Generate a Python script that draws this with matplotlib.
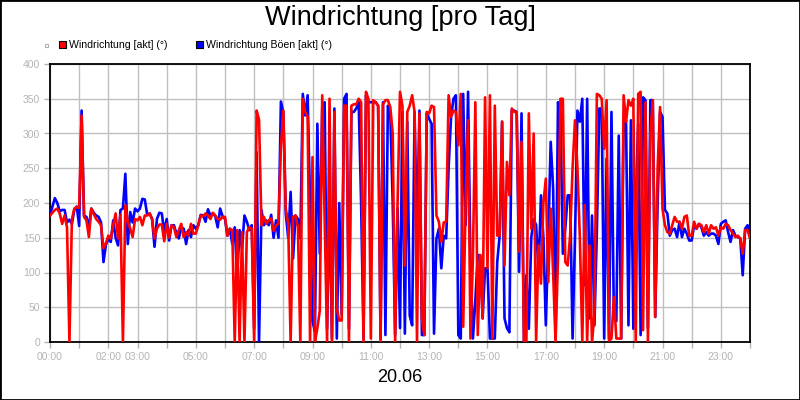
import matplotlib
matplotlib.use("Agg")
import matplotlib.pyplot as plt
from matplotlib.patches import Rectangle
import numpy as np

plt.rcParams['font.family'] = ['Liberation Sans', 'DejaVu Sans']

# wind direction [deg], one value every 5 minutes, 00:00 .. 24:00
gust_dir = [
    182, 195, 207, 200, 188, 190, 190, 172, 176, 170, 190, 195,
    167, 333, 182, 180, 165, 192, 186, 182, 180, 172, 115, 140,
    148, 144, 175, 150, 139, 190, 192, 242, 141, 187, 172, 192,
    188, 192, 206, 205, 183, 185, 177, 137, 177, 186, 185, 158,
    177, 146, 168, 168, 156, 149, 165, 163, 141, 161, 151, 168,
    163, 168, 183, 182, 173, 191, 182, 185, 181, 165, 192, 181,
    177, 153, 163, 141, 165, 96, 161, 134, 182, 173, 161, 168,
    19, 273, 0, 190, 168, 175, 168, 183, 150, 175, 150, 346,
    330, 185, 150, 216, 120, 182, 177, 149, 357, 326, 355, 200,
    30, 15, 314, 127, 336, 345, 19, 206, 5, 336, 5, 200,
    40, 350, 357, 19, 331, 331, 336, 345, 200, 5, 355, 345,
    345, 345, 345, 340, 5, 345, 10, 340, 331, 200, 10, 192,
    20, 331, 12, 317, 38, 24, 331, 150, 333, 10, 10, 329,
    321, 314, 12, 149, 163, 106, 153, 149, 250, 324, 350, 355,
    10, 5, 357, 168, 360, 115, 5, 60, 125, 125, 34, 106,
    106, 5, 5, 5, 115, 153, 317, 34, 20, 14, 333, 333,
    331, 101, 329, 0, 96, 19, 150, 177, 168, 101, 211, 150,
    24, 150, 288, 221, 5, 345, 331, 127, 163, 211, 211, 5,
    150, 333, 317, 350, 82, 350, 34, 182, 24, 160, 336, 336,
    5, 264, 5, 331, 34, 30, 297, 5, 317, 319, 24, 319,
    19, 200, 314, 10, 352, 348, 20, 348, 348, 36, 200, 331,
    324, 190, 185, 153, 161, 163, 151, 173, 151, 163, 156, 146,
    146, 168, 163, 170, 165, 153, 158, 153, 156, 156, 153, 141,
    170, 173, 175, 158, 144, 161, 153, 151, 149, 96, 163, 168,
    153,
]

wind_dir = [
    182, 186, 190, 192, 185, 170, 182, 165, 0, 176, 192, 194,
    193, 326, 180, 175, 151, 192, 184, 177, 173, 168, 135, 142,
    153, 149, 168, 185, 149, 183, 0, 197, 173, 163, 151, 177,
    175, 180, 168, 182, 182, 185, 177, 149, 163, 169, 169, 145,
    170, 150, 168, 165, 151, 161, 170, 151, 158, 153, 170, 156,
    156, 168, 182, 181, 185, 182, 177, 186, 182, 177, 176, 180,
    180, 153, 163, 161, 0, 161, 0, 158, 0, 158, 165, 163,
    0, 333, 320, 168, 180, 170, 175, 178, 160, 168, 170, 280,
    333, 192, 170, 0, 180, 182, 165, 0, 350, 331, 324, 0,
    266, 0, 20, 45, 355, 180, 0, 350, 0, 331, 48, 31,
    31, 340, 340, 0, 340, 342, 342, 350, 345, 0, 360, 350,
    5, 348, 345, 340, 0, 342, 348, 348, 338, 300, 0, 200,
    360, 340, 110, 331, 340, 355, 331, 0, 329, 34, 10, 331,
    329, 340, 338, 182, 173, 144, 172, 173, 355, 324, 333, 331,
    283, 357, 22, 201, 319, 5, 120, 345, 10, 125, 34, 352,
    106, 355, 5, 340, 153, 153, 317, 110, 259, 211, 336, 331,
    331, 130, 288, 0, 0, 329, 163, 300, 0, 139, 84, 200,
    235, 86, 192, 100, 0, 120, 350, 350, 115, 110, 153, 250,
    319, 250, 150, 0, 197, 0, 139, 0, 40, 357, 355, 350,
    278, 348, 2, 5, 65, 5, 5, 5, 355, 317, 348, 340,
    350, 0, 357, 360, 17, 345, 0, 300, 348, 36, 250, 338,
    192, 168, 158, 156, 168, 180, 173, 173, 163, 180, 182, 153,
    153, 173, 163, 170, 168, 158, 168, 156, 168, 163, 165, 153,
    165, 163, 170, 168, 161, 156, 151, 153, 149, 127, 161, 161,
    149,
]

labelled_hours = [0, 2, 3, 5, 7, 9, 11, 13, 15, 17, 19, 21, 23]
y_ticks = [0, 50, 100, 150, 200, 250, 300, 350, 400]

hours = np.arange(len(wind_dir)) / 12.0
gray = '#b4b4b4'

fig = plt.figure(figsize=(8, 4), dpi=100)
ax = fig.add_axes([0.0625, 0.145, 0.875, 0.695])

ax.plot(hours, gust_dir, color='#0000ff', lw=1.9, zorder=3)
ax.plot(hours, wind_dir, color='#ff0000', lw=1.9, zorder=4)

ax.set_xlim(0, 24)
ax.set_ylim(0, 400)
ax.set_xticks(range(0, 25))
ax.set_xticklabels(['%02d:00' % h if h in labelled_hours else '' for h in range(0, 25)])
ax.set_yticks(y_ticks)
ax.grid(True, color='#c0c0c0', lw=1.0, zorder=0)
ax.tick_params(axis='both', colors=gray, labelsize=7.5, length=4, width=1, pad=3)
for s in ax.spines.values():
    s.set_color('black')
    s.set_linewidth(1.3)

fig.text(0.5, 0.955, 'Windrichtung [pro Tag]', ha='center', va='center', fontsize=19.5)
fig.text(0.5, 0.055, '20.06', ha='center', va='center', fontsize=13)

# legend drawn by hand at top left
def box(x, y, w, h, fc, ec):
    fig.patches.append(Rectangle((x / 800, 1 - (y + h) / 400), w / 800, h / 400,
                                 transform=fig.transFigure, facecolor=fc,
                                 edgecolor=ec, lw=0.8))

box(45, 44, 3, 3, 'none', '#b0b0b0')
box(59, 41, 7, 7, '#ff0000', 'black')
fig.text(69 / 800, 1 - 45 / 400, 'Windrichtung [akt] (°)', ha='left', va='center', fontsize=7.6)
box(196, 41, 7, 7, '#0000ff', 'black')
fig.text(206 / 800, 1 - 45 / 400, 'Windrichtung Böen [akt] (°)', ha='left', va='center', fontsize=7.6)

fig.patches.append(Rectangle((0, 0), 1, 1, transform=fig.transFigure,
                             facecolor='none', edgecolor='black', lw=2))

fig.savefig('out.png', dpi=100)
